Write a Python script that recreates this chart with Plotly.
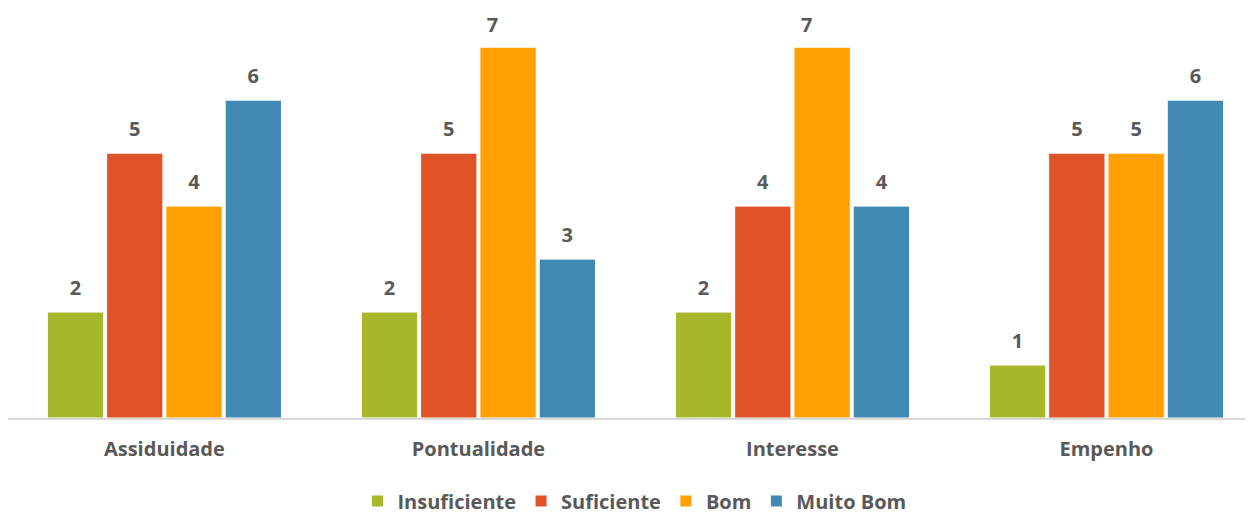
import plotly.graph_objects as go

categories = ["Assiduidade", "Pontualidade", "Interesse", "Empenho"]
series_names = ["Insuficiente", "Suficiente", "Bom", "Muito Bom"]
insuficiente = [2, 2, 2, 1]
suficiente = [5, 5, 4, 5]
bom = [4, 7, 7, 5]
muito_bom = [6, 3, 4, 6]
colors = ["#A7B82A", "#E05327", "#FF9F00", "#428AB4"]

FONT = "Open Sans"
GRAY = "#595959"
BARGAP = 0.245
YMAX = 7.74

fig = go.Figure()
all_vals = [insuficiente, suficiente, bom, muito_bom]
for i, (name, vals, col) in enumerate(zip(series_names, all_vals, colors)):
    fig.add_trace(go.Bar(
        x=categories, y=vals, name=name, offsetgroup=str(i),
        marker=dict(color=col, line=dict(color="white", width=1)),
    ))
for i, (name, vals) in enumerate(zip(series_names, all_vals)):
    # labels of the tallest bars sit shifted left, as in the original
    near_top = [v >= 7 for v in vals]
    fig.add_trace(go.Scatter(
        x=categories, y=vals, mode="markers+text", offsetgroup=str(i),
        text=[str(v) for v in vals],
        textposition=["top left" if t else "top center" for t in near_top],
        marker=dict(size=[14 if t else 18 for t in near_top], opacity=0),
        textfont=dict(family=FONT, size=20, color=GRAY, weight="bold"),
        showlegend=False, hoverinfo="skip", cliponaxis=False,
    ))

fig.update_layout(
    width=1253, height=513,
    margin=dict(l=0, r=0, t=0, b=103),
    plot_bgcolor="white", paper_bgcolor="white",
    barmode="group", bargap=BARGAP, bargroupgap=0.05,
    scattermode="group", scattergap=BARGAP,
    font=dict(family=FONT, color=GRAY),
    showlegend=True,
    legend=dict(orientation="h", x=0.5, xanchor="center", y=-0.2024, yanchor="middle",
                font=dict(family=FONT, size=20, color=GRAY, weight="bold"),
                itemwidth=30, traceorder="normal", tracegroupgap=0),
    xaxis=dict(showline=True, linecolor="#D9D9D9", linewidth=1.5,
               range=[-0.498, 3.492],
               ticks="outside", ticklen=12, tickcolor="rgba(0,0,0,0)",
               tickfont=dict(family=FONT, size=20, color=GRAY, weight="bold")),
    yaxis=dict(range=[0, YMAX], visible=False, showgrid=False, zeroline=False),
)

fig.write_html("out.html")
